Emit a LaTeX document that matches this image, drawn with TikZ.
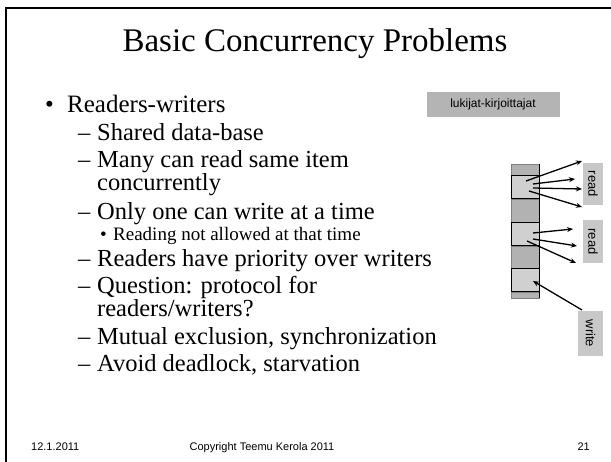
\documentclass[tikz,border=0pt]{standalone}
\usepackage{fontspec}
\setmainfont{Liberation Serif}
\newfontfamily\arial{Liberation Sans}
\usetikzlibrary{arrows.meta}
\definecolor{darkcell}{HTML}{B2B2B2}
\definecolor{lightcell}{HTML}{D0D0D0}
\definecolor{labelgray}{HTML}{C8C8C8}
\definecolor{taggray}{HTML}{B4B4B4}
\tikzset{
  lvlone/.style={anchor=base west, inner sep=0pt, font=\fontsize{25}{23}\selectfont},
  lvltwo/.style={anchor=base west, inner sep=0pt, align=left, font=\fontsize{24.5}{23}\selectfont},
  lvlthree/.style={anchor=base west, inner sep=0pt, font=\fontsize{19}{22}\selectfont},
  foot/.style={anchor=base, inner sep=0pt, font=\arial\fontsize{11}{13}\selectfont},
  darkbox/.style={fill=darkcell, draw=gray, line width=0.6pt},
  lightbox/.style={fill=lightcell, draw=black, line width=1pt},
  sidelabel/.style={fill=labelgray, font=\arial\fontsize{13}{15}\selectfont, rotate=-90, inner sep=0pt, anchor=center},
  arr/.style={-{Stealth[length=6pt,width=5pt]}, line width=1.3pt, black},
}
\begin{document}
\begin{tikzpicture}[x=1pt,y=-1pt]
\useasboundingbox (0,0) rectangle (611,462);
% frame
\draw[line width=2.5pt] (6,462) -- (6,8) -- (611,8);
% title
\node[anchor=base, inner sep=0pt, font=\fontsize{33}{37}\selectfont] (title) at (315,52) {Basic Concurrency Problems};
% tag
\node[fill=taggray, font=\arial\fontsize{12}{14}\selectfont, minimum width=133pt, minimum height=25pt, inner sep=0pt] (tag) at (493,104.5) {lukijat-kirjoittajat};
% bullets
\node[lvlone] (b1) at (45,113) {•};
\node[lvlone] (t1) at (67,113) {Readers-writers};
\node[lvltwo] (d1) at (78,141) {–};
\node[lvltwo] (t2) at (97,141) {Shared data-base};
\node[lvltwo] (d2) at (78,168) {–};
\node[lvltwo] (t3) at (97,191) {Many can read same item\\concurrently};
\node[lvltwo] (d3) at (78,220) {–};
\node[lvltwo] (t4) at (97,220) {Only one can write at a time};
\node[lvlthree] (b2) at (100,241) {•};
\node[lvlthree] (t5) at (113,241) {Reading not allowed at that time};
\node[lvltwo] (d4) at (78,267) {–};
\node[lvltwo] (t6) at (97,267) {Readers have priority over writers};
\node[lvltwo] (d5) at (78,294) {–};
\node[lvltwo] (t7) at (97,317) {Question: protocol for\\readers/writers?};
\node[lvltwo] (d6) at (78,345) {–};
\node[lvltwo] (t8) at (97,345) {Mutual exclusion, synchronization};
\node[lvltwo] (d7) at (78,372) {–};
\node[lvltwo] (t9) at (97,372) {Avoid deadlock, starvation};
% database column
\draw[darkbox] (511,164) rectangle (539,176);
\draw[lightbox] (511,176) rectangle (539,199);
\draw[darkbox] (511,199) rectangle (539,223);
\draw[lightbox] (511,223) rectangle (539,246);
\draw[darkbox] (511,246) rectangle (539,269);
\draw[lightbox] (511,269) rectangle (539,292);
\draw[darkbox] (511,292) rectangle (539,298);
\draw[line width=1pt] (539,164) -- (539,298);
% labels
\node[sidelabel, minimum width=42pt, minimum height=20pt] (r1) at (593,184) {read};
\node[sidelabel, minimum width=43pt, minimum height=20pt] (r2) at (593,241.5) {read};
\node[sidelabel, minimum width=45pt, minimum height=25pt] (w) at (590.5,333.5) {write};
% arrow ends
\coordinate (s1) at (526,181); \coordinate (e1) at (582,161);
\coordinate (s2) at (533,184); \coordinate (e2) at (575,179);
\coordinate (s3) at (533,188); \coordinate (e3) at (582,189);
\coordinate (s4) at (529,191); \coordinate (e4) at (582,207);
\coordinate (s5) at (533,233); \coordinate (e5) at (573,229);
\coordinate (s6) at (533,239); \coordinate (e6) at (577,246);
\coordinate (s7) at (527,241); \coordinate (e7) at (576,263);
\coordinate (ws) at (582,310); \coordinate (we) at (533,281);
\draw[arr] (s1) -- (e1);
\draw[arr] (s2) -- (e2);
\draw[arr] (s3) -- (e3);
\draw[arr] (s4) -- (e4);
\draw[arr] (s5) -- (e5);
\draw[arr] (s6) -- (e6);
\draw[arr] (s7) -- (e7);
\draw[arr] (ws) -- (we);
% footer
\node[foot, anchor=base west] (f1) at (31,451) {12.1.2011};
\node[foot] (f2) at (262,451) {Copyright Teemu Kerola 2011};
\node[foot, anchor=base east] (f3) at (590,451) {21};
\end{tikzpicture}
\end{document}
